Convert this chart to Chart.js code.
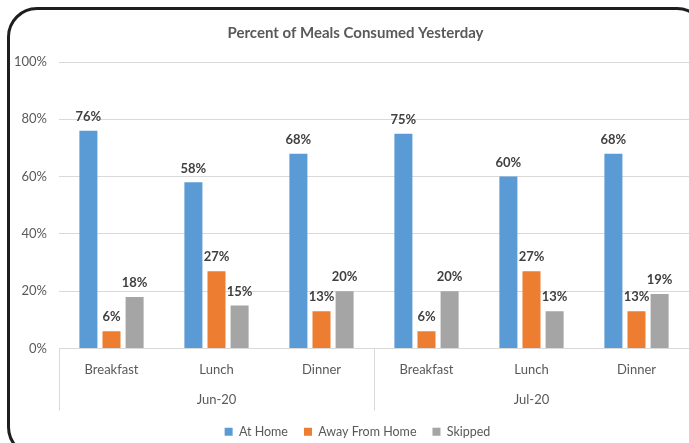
<!DOCTYPE html>
<html lang="en">
<head>
  <meta charset="UTF-8">
  <title>Percent of Meals Consumed Yesterday</title>
  <script src="https://cdn.jsdelivr.net/npm/chart.js"></script>
  <style>
    html, body { margin: 0; padding: 0; background: #fff; overflow: hidden; }
    #wrap { position: relative; width: 689px; height: 443px; }
    #frame {
      position: absolute; left: 7px; top: 7px; width: 700px; height: 450px;
      border: 3px solid #1e1e1e; border-radius: 30px; box-sizing: border-box;
      pointer-events: none;
    }
    canvas { position: absolute; left: 0; top: 0; }
  </style>
</head>
<body>
  <div id="wrap">
    <canvas id="mealChart" width="689" height="443"></canvas>
    <div id="frame"></div>
  </div>
  <script>
    const months = ['Jun-20', 'Jul-20'];
    const meals = ['Breakfast', 'Lunch', 'Dinner'];
    const seriesNames = ['At Home', 'Away From Home', 'Skipped'];
    const atHome = [76, 58, 68, 75, 60, 68];
    const awayFromHome = [6, 27, 13, 6, 27, 13];
    const skipped = [18, 15, 20, 20, 13, 19];
    const yTicks = [0, 20, 40, 60, 80, 100];

    const colors = ['#5b9bd5', '#ed7d31', '#a5a5a5'];
    const textColor = '#595959';
    const font = 'Lato';

    // meal label on first line, month under the middle meal
    const labels = [];
    months.forEach(m => {
      meals.forEach((meal, i) => {
        labels.push([meal, i === 1 ? m : '']);
      });
    });

    const valueLabels = {
      id: 'valueLabels',
      afterDatasetsDraw(chart) {
        const ctx = chart.ctx;
        ctx.save();
        ctx.font = 'bold 13px ' + font;
        ctx.fillStyle = '#404040';
        ctx.textAlign = 'center';
        ctx.textBaseline = 'middle';
        chart.data.datasets.forEach((ds, di) => {
          chart.getDatasetMeta(di).data.forEach((bar, i) => {
            ctx.fillText(ds.data[i] + '%', bar.x, bar.y - 14);
          });
        });
        ctx.restore();
      }
    };

    const groupLines = {
      id: 'groupLines',
      afterDraw(chart) {
        const x = chart.scales.x;
        const ctx = chart.ctx;
        const per = meals.length;
        const bottom = x.top + 62;
        ctx.save();
        ctx.strokeStyle = '#d9d9d9';
        ctx.lineWidth = 1;
        for (let g = 0; g <= months.length; g++) {
          let px;
          if (g === 0) px = x.left;
          else if (g === months.length) px = x.right;
          else px = (x.getPixelForValue(g * per - 1) + x.getPixelForValue(g * per)) / 2;
          px = Math.round(px) + 0.5;
          ctx.beginPath();
          ctx.moveTo(px, x.top);
          ctx.lineTo(px, bottom);
          ctx.stroke();
        }
        ctx.restore();
      }
    };

    // title and legend sit a little right of centre, as in the original
    const nudge = {
      id: 'nudge',
      afterLayout(chart) {
        if (chart.titleBlock) { chart.titleBlock.left += 11; chart.titleBlock.right += 11; }
        if (chart.legend) { chart.legend.left += 13; chart.legend.right += 13; }
      }
    };

    new Chart(document.getElementById('mealChart'), {
      type: 'bar',
      data: {
        labels: labels,
        datasets: [
          { label: seriesNames[0], data: atHome, backgroundColor: colors[0] },
          { label: seriesNames[1], data: awayFromHome, backgroundColor: colors[1] },
          { label: seriesNames[2], data: skipped, backgroundColor: colors[2] }
        ]
      },
      options: {
        responsive: false,
        animation: false,
        layout: { padding: { left: 0, right: 0, top: 14, bottom: -5 } },
        datasets: { bar: { categoryPercentage: 0.66, barPercentage: 0.78 } },
        plugins: {
          title: {
            display: true,
            text: 'Percent of Meals Consumed Yesterday',
            color: textColor,
            font: { family: font, size: 15, weight: 'bold' },
            padding: { top: 10, bottom: 20 }
          },
          legend: {
            position: 'bottom',
            labels: {
              color: textColor,
              font: { family: font, size: 12.5 },
              boxWidth: 8,
              boxHeight: 8,
              padding: 16
            }
          },
          tooltip: { enabled: false }
        },
        scales: {
          x: {
            afterFit(scale) { scale.height = 61; },
            grid: { display: false },
            border: { color: '#d9d9d9' },
            ticks: {
              color: textColor,
              font: { family: font, size: 13, lineHeight: 2.3 },
              maxRotation: 0,
              padding: -2
            }
          },
          y: {
            min: 0,
            max: 100,
            afterFit(scale) { scale.width = 59; },
            afterBuildTicks(scale) { scale.ticks = yTicks.map(v => ({ value: v })); },
            grid: { color: '#d9d9d9', drawTicks: false },
            border: { display: false },
            ticks: {
              color: textColor,
              font: { family: font, size: 13 },
              padding: 12,
              callback: v => v + '%'
            }
          }
        }
      },
      plugins: [valueLabels, groupLines, nudge]
    });
  </script>
</body>
</html>
